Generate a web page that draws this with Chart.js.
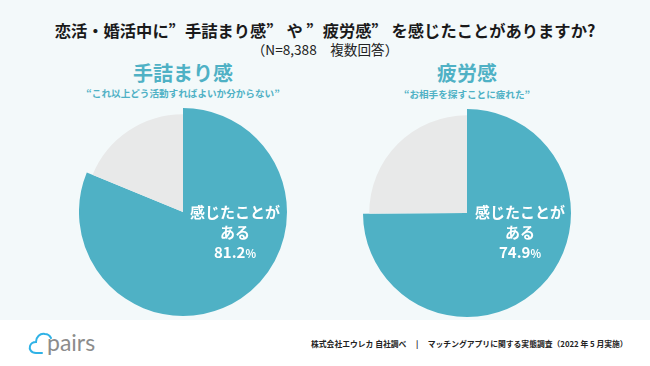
<!DOCTYPE html>
<html>
<head>
<meta charset="utf-8">
<script src="https://cdn.jsdelivr.net/npm/chart.js@4"></script>
<style>
  html,body{margin:0;padding:0;}
  body{width:650px;height:366px;position:relative;background:#ffffff;overflow:hidden;
       font-family:"Noto Sans CJK JP","Noto Sans",sans-serif;}
  #panel{position:absolute;left:0;top:0;width:650px;height:320px;background:#f3f9fa;}
  .t{position:absolute;white-space:nowrap;text-align:center;}
  #title{left:0;width:650px;top:19px;font-size:16.3px;font-weight:700;color:#1a1a1a;line-height:22px;}
  #title .q{font-feature-settings:"fwid" 1;}
  #sub{left:0;width:650px;top:40px;font-size:13.6px;font-weight:400;color:#222;line-height:18px;}
  #sub .p{font-feature-settings:"fwid" 1;}
  .head{font-size:20px;font-weight:700;color:#4fb1c5;line-height:24px;width:300px;}
  .quote{font-size:9.6px;font-weight:700;color:#4fb1c5;line-height:12px;width:300px;}
  .lbl{font-size:15px;font-weight:700;color:#ffffff;line-height:20px;width:120px;}
  .lbl small{font-size:11px;}
  canvas{position:absolute;}
  #foot{position:absolute;left:311px;top:338px;font-size:7.8px;color:#222;white-space:nowrap;font-weight:700;}
  #logo{position:absolute;left:27px;top:327px;}
</style>
</head>
<body>
<div id="panel"></div>
<div id="title" class="t">恋活・婚活中に<span class="q">”</span>手詰まり感<span class="q">”</span> や <span class="q">”</span>疲労感<span class="q">”</span> を感じたことがありますか?</div>
<div id="sub" class="t"><span class="p">（</span>N=8,388　複数回答<span class="p">）</span></div>

<canvas id="c1" width="208" height="208" style="left:79px;top:108px;width:208px;height:208px;"></canvas>
<canvas id="c2" width="208" height="208" style="left:363px;top:109px;width:208px;height:208px;"></canvas>

<div id="h1" class="t head" style="left:33px;top:61px;"></div>
<div id="q1" class="t quote" style="left:33px;top:87px;"></div>
<div id="h2" class="t head" style="left:317px;top:61px;"></div>
<div id="q2" class="t quote" style="left:317px;top:88px;"></div>

<div id="l1" class="t lbl" style="left:175px;top:202px;"></div>
<div id="l2" class="t lbl" style="left:460px;top:202px;"></div>

<div id="logo">
  <svg width="85" height="32" viewBox="0 0 85 32">
    <path d="M15 26 H9 C4 26 2 22 3 19 C4 16 7 15 9 15 C9 10 13 6 18 7 C21 7 23 9 24 11" fill="none" stroke="#2fb2e6" stroke-width="2" stroke-linecap="round"/>
    <text x="20" y="24" font-family="Lato, 'Noto Sans', sans-serif" font-size="23" fill="#8c8c8c">pairs</text>
  </svg>
</div>
<div id="foot">株式会社エウレカ 自社調べ　 |　 マッチングアプリに関する実態調査（2022 年 5 月実施）</div>

<script>
// ---- data ----
const chartTitles = ["手詰まり感", "疲労感"];
const chartQuotes = ["“これ以上どう活動すればよいか分からない”", "“お相手を探すことに疲れた”"];
const categories = ["感じたことがある", "感じたことがない"];
const valuesTezumari = [81.2, 18.8];
const valuesHirou = [74.9, 25.1];
const sliceColors = ["#4fb1c5", "#e8e9e9"];

document.getElementById('h1').textContent = chartTitles[0];
document.getElementById('q1').textContent = chartQuotes[0];
document.getElementById('h2').textContent = chartTitles[1];
document.getElementById('q2').textContent = chartQuotes[1];
function labelHtml(v){ return "感じたことが<br>ある<br>" + v.toFixed(1) + "<small>%</small>"; }
document.getElementById('l1').innerHTML = labelHtml(valuesTezumari[0]);
document.getElementById('l2').innerHTML = labelHtml(valuesHirou[0]);

// shrink the secondary (gray) slice slightly, as in the reference
const shrinkPlugin = {
  id: 'shrinkSecond',
  afterDatasetUpdate(chart, args) {
    const arc = args.meta.data[1];
    if (arc) arc.outerRadius = arc.outerRadius * 0.94;
  }
};

function makePie(id, values){
  new Chart(document.getElementById(id), {
    type: 'pie',
    data: {
      labels: categories,
      datasets: [{ data: values, backgroundColor: sliceColors, borderWidth: 0, hoverOffset: 0 }]
    },
    options: {
      responsive: false,
      animation: false,
      layout: { padding: 0 },
      plugins: { legend: { display: false }, tooltip: { enabled: false }, title: { display: false } },
      events: []
    },
    plugins: [shrinkPlugin]
  });
}
makePie('c1', valuesTezumari);
makePie('c2', valuesHirou);
</script>
</body>
</html>
